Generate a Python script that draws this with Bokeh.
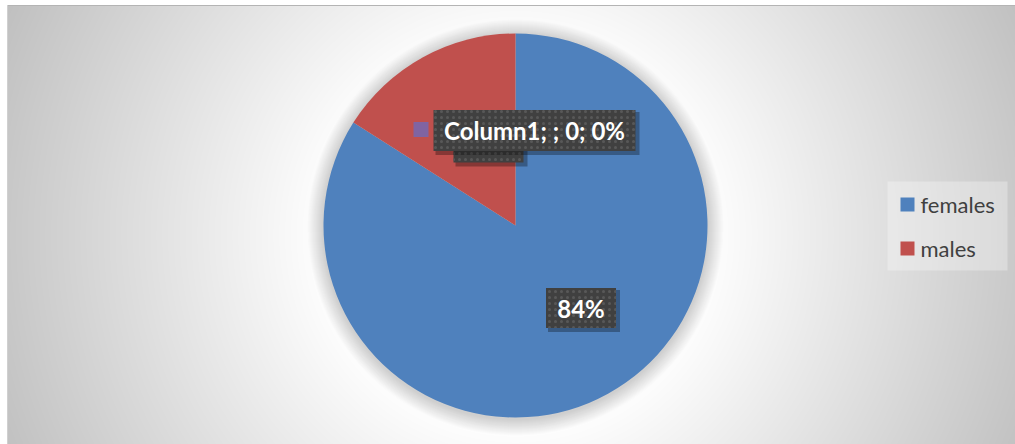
import numpy as np
from bokeh.plotting import figure
from bokeh.models import ColumnDataSource, Range1d
from bokeh.core.properties import value
from bokeh.embed import file_html
from bokeh.resources import INLINE

# ---- data ----
categories = ["females", "males", "Column1"]
values = [84, 16, 0]
colors = ["#4F81BD", "#C0504D", "#8064A2"]
label_texts = ["84%", "16%", "Column1; ; 0; 0%"]
legend_labels = ["females", "males"]

W, H = 1015, 444
p = figure(width=W, height=H, output_backend="svg", toolbar_location=None,
           x_range=Range1d(0, W), y_range=Range1d(0, H), min_border=0,
           border_fill_color="white", background_fill_color="white",
           outline_line_color=None)
p.axis.visible = False
p.grid.visible = False

# ---- background radial gradient (screen coords -> data y = H - y) ----
x0, x1, ytop = 7, W, 5
nx, ny = x1 - x0, H - ytop
xs = np.arange(nx) + x0 + 0.5
ys_screen = H - (np.arange(ny) + 0.5)  # row 0 = bottom
X, Y = np.meshgrid(xs, ys_screen)
d = np.sqrt((X - 515) ** 2 + ((Y - 235) * 1.0) ** 2)
t = np.clip((d - 190) / 380.0, 0, 1)
g = (255 - (255 - 190) * t).astype(np.uint32)
img = (255 << 24) | (g << 16) | (g << 8) | g
p.image_rgba(image=[img.astype(np.uint32)], x=x0, y=0, dw=nx, dh=ny)
p.segment(x0=[x0], y0=[H - ytop], x1=[W], y1=[H - ytop], line_color="#b4b4b4", line_width=1)
p.segment(x0=[x0], y0=[0], x1=[x0], y1=[H - ytop], line_color="#d0d0d0", line_width=1)

# ---- pie ----
cx, cy, r = 515, H - 225, 192
# soft shadow
for k in range(16, 0, -1):
    p.circle(x=[cx], y=[cy - 2], radius=r + k * 1.0, fill_color="black",
             fill_alpha=0.011, line_color=None)

total = sum(values)
fracs = np.array(values) / total
ends = np.pi / 2 - 2 * np.pi * np.cumsum(fracs)
starts = np.concatenate([[np.pi / 2], ends[:-1]])
keep = [i for i, v in enumerate(values) if v > 0]
src = ColumnDataSource(dict(cat=[categories[i] for i in keep],
                            start=starts[keep], end=ends[keep],
                            color=[colors[i] for i in keep]))
wr = p.wedge(x=cx, y=cy, radius=r, start_angle="start", end_angle="end",
             direction="clock", fill_color="color", line_color=None, source=src)

# ---- data labels ----
def label_box(cxb, cyb, w, h, txt, ty=None):
    p.rect(x=[cxb + 3], y=[cyb - 3], width=w + 2, height=h + 2, fill_color="black",
           fill_alpha=0.3, line_color=None)
    p.rect(x=[cxb], y=[cyb], width=w, height=h, fill_color="#404040", line_color=None,
           hatch_pattern="dot", hatch_color="#585858", hatch_scale=6, hatch_weight=1.5)
    p.text(x=[cxb], y=[cyb if ty is None else ty], text=[txt], text_align="center",
           text_baseline="middle", text_color="white", text_font=value("Lato"),
           text_font_style="bold", text_font_size="24px")

# males label (mostly hidden behind the Column1 label)
label_box(488, H - 141.5, 70, 41, label_texts[1], ty=H - 134)
# females label
label_box(580.5, H - 307.5, 70, 40, label_texts[0])
# Column1 label
label_box(534, H - 130, 202, 41, label_texts[2])
p.rect(x=[420.5], y=[H - 129], width=15, height=15, fill_color=colors[2], line_color=None)

# ---- legend ----
p.rect(x=[947], y=[H - 225.5], width=120, height=89, fill_color="white",
       fill_alpha=0.3, line_color=None)
leg_y = [H - 204, H - 248]
p.rect(x=[907] * 2, y=leg_y, width=14, height=14, fill_color=colors[:2], line_color=None)
p.text(x=[920] * 2, y=leg_y, text=legend_labels, text_align="left", text_baseline="middle",
       text_color="#404040", text_font=value("Lato"), text_font_size="22px")

open("out.html", "w").write(file_html(p, INLINE))
